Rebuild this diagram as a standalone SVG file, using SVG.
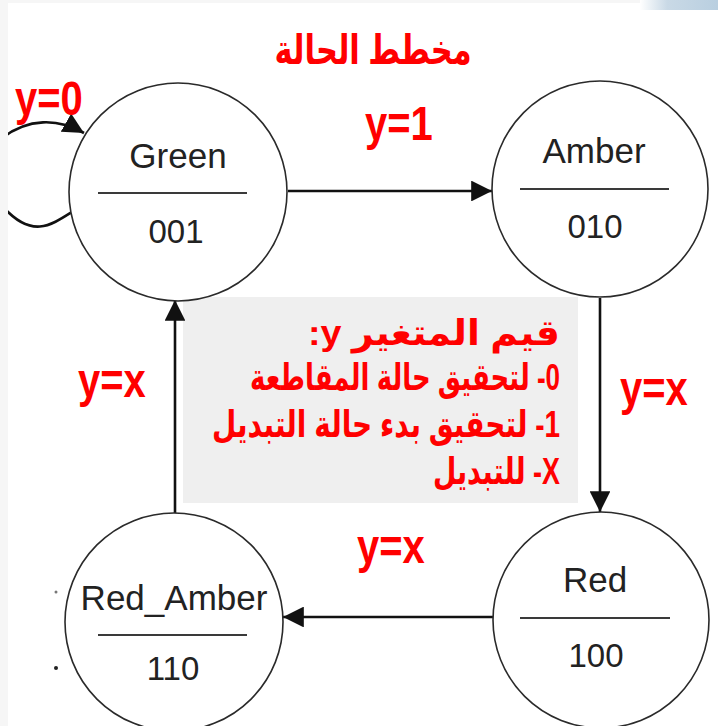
<svg xmlns="http://www.w3.org/2000/svg" width="718" height="726" viewBox="0 0 718 726">
  <defs>
    <style>
      .state { fill: #ffffff; stroke: #2a2a2a; stroke-width: 1.6; }
      .divider { stroke: #3a3a3a; stroke-width: 2; }
      .name { font-family: "Liberation Sans", Arial, sans-serif; font-size: 35px; fill: #222222; text-anchor: middle; }
      .code { font-family: "Liberation Sans", Arial, sans-serif; font-size: 33px; fill: #222222; text-anchor: middle; }
      .edge { fill: none; stroke: #111111; stroke-width: 2.6; }
      .lbl { font-family: "Liberation Sans", Arial, sans-serif; font-weight: bold; font-size: 40px; fill: #ff0000; }
      .ar { font-family: "Liberation Sans", "DejaVu Sans", sans-serif; font-weight: bold; font-size: 31px; fill: #ff0000; }
    </style>
    <marker id="head" viewBox="0 0 10 10" refX="10" refY="5" markerWidth="8" markerHeight="8" markerUnits="strokeWidth" orient="auto">
      <path d="M0,0 L10,5 L0,10 z" fill="#111111"/>
    </marker>
    <linearGradient id="corner" x1="0" y1="0" x2="1" y2="0">
      <stop offset="0" stop-color="#ffffff"/>
      <stop offset="0.35" stop-color="#c9d9e6"/>
      <stop offset="1" stop-color="#b9cfe0"/>
    </linearGradient>
  </defs>

  <!-- page -->
  <rect x="0" y="0" width="718" height="726" fill="#ffffff"/>

  <!-- legend panel -->
  <rect x="183" y="297" width="395" height="206" fill="#efefef"/>

  <!-- connectors -->
  <g id="connectors">
    <path class="edge" d="M72,212 C50,226 32,238 4,208 C-20,180 -15,148 2,138 C28,118 58,118 84,133" marker-end="url(#head)"/>
    <line class="edge" x1="288" y1="191" x2="492" y2="191" marker-end="url(#head)"/>
    <line class="edge" x1="600" y1="298" x2="600" y2="512" marker-end="url(#head)"/>
    <line class="edge" x1="493" y1="617" x2="283" y2="617" marker-end="url(#head)"/>
    <line class="edge" x1="175" y1="513" x2="175" y2="300" marker-end="url(#head)"/>
  </g>

  <!-- states -->
  <g id="green">
    <circle class="state" cx="178" cy="192" r="109"/>
    <line class="divider" x1="98" y1="193" x2="247" y2="193"/>
    <text class="name" x="178" y="168">Green</text>
    <text class="code" x="176" y="243">001</text>
  </g>
  <g id="amber">
    <circle class="state" cx="600" cy="189" r="108"/>
    <line class="divider" x1="520" y1="189" x2="669" y2="189"/>
    <text class="name" x="594" y="163">Amber</text>
    <text class="code" x="595" y="238">010</text>
  </g>
  <g id="red">
    <circle class="state" cx="601" cy="620" r="108"/>
    <line class="divider" x1="520" y1="618" x2="670" y2="618"/>
    <text class="name" x="595" y="592">Red</text>
    <text class="code" x="596" y="667">100</text>
  </g>
  <g id="red_amber">
    <circle class="state" cx="174" cy="622" r="109"/>
    <line class="divider" x1="98" y1="635" x2="247" y2="635"/>
    <text class="name" x="174" y="610">Red_Amber</text>
    <text class="code" x="173" y="680">110</text>
  </g>

  <!-- transition labels -->
  <g id="labels">
    <text class="lbl" transform="translate(15,115) scale(1,1.2)">y=0</text>
    <text class="lbl" transform="translate(365,140) scale(1,1.2)">y=1</text>
    <text class="lbl" transform="translate(620,405) scale(1,1.2)">y=x</text>
    <text class="lbl" transform="translate(78,397) scale(1,1.2)">y=x</text>
    <text class="lbl" transform="translate(357,563) scale(1,1.2)">y=x</text>
  </g>

  <!-- title -->
  <text class="ar" direction="rtl" text-anchor="middle" style="font-size:34px" transform="translate(373,64) scale(1,1.2)" textLength="197" lengthAdjust="spacingAndGlyphs">مخطط الحالة</text>

  <!-- legend text -->
  <g id="legend">
    <text class="ar" direction="rtl" text-anchor="start" transform="translate(560,345) scale(1,1.15)" textLength="252" lengthAdjust="spacingAndGlyphs">قيم المتغير y:</text>
    <text class="ar" direction="rtl" text-anchor="start" transform="translate(560,390) scale(1,1.2)" textLength="310" lengthAdjust="spacingAndGlyphs">0- لتحقيق حالة المقاطعة</text>
    <text class="ar" direction="rtl" text-anchor="start" transform="translate(560,437) scale(1,1.2)" textLength="348" lengthAdjust="spacingAndGlyphs">1- لتحقيق بدء حالة  التبديل</text>
    <text class="ar" direction="rtl" text-anchor="start" transform="translate(560,484) scale(1,1.2)" textLength="127" lengthAdjust="spacingAndGlyphs">X- للتبديل</text>
  </g>

  <!-- small marks left of Red_Amber -->
  <circle cx="56" cy="592" r="1.5" fill="#777777"/>
  <circle cx="56" cy="668" r="2" fill="#222222"/>

  <!-- window frame edges -->
  <rect x="0" y="0" width="8" height="726" fill="#f6f6f6"/>
  <rect x="0" y="0" width="718" height="3" fill="#f6f6f6"/>
  <rect x="640" y="0" width="78" height="10" fill="url(#corner)"/>
</svg>
